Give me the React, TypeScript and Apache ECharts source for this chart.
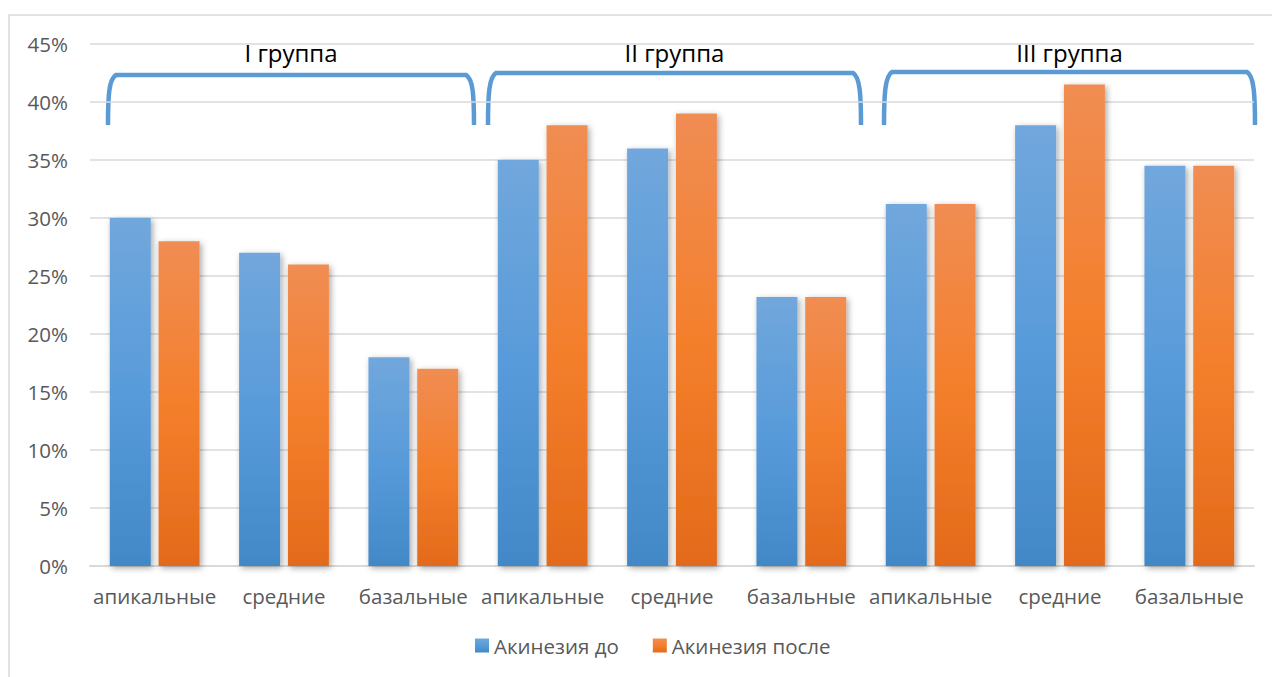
import React, { useEffect, useRef } from "react";
import * as echarts from "echarts";

// Segment categories, repeated for each of the three patient groups
const categories = [
  "апикальные", "средние", "базальные",
  "апикальные", "средние", "базальные",
  "апикальные", "средние", "базальные",
];
const groupNames = ["I группа", "II группа", "III группа"];
const seriesNames = ["Акинезия до", "Акинезия после"];
const akinesiaBefore = [30, 27, 18, 35, 36, 23.2, 31.2, 38, 34.5];
const akinesiaAfter = [28, 26, 17, 38, 39, 23.2, 31.2, 41.5, 34.5];
const yTicks = { min: 0, max: 45, interval: 5 };

const TEXT = "#595959";
const GRID = "#d9d9d9";
const BRACE = "#5b9bd5";
const FONT = "'Open Sans', 'Noto Sans', sans-serif";

const blueFill = new echarts.graphic.LinearGradient(0, 0, 0, 1, [
  { offset: 0, color: "#71a7dc" },
  { offset: 0.5, color: "#589bda" },
  { offset: 1, color: "#4288c7" },
]);
const orangeFill = new echarts.graphic.LinearGradient(0, 0, 0, 1, [
  { offset: 0, color: "#f08d53" },
  { offset: 0.5, color: "#f47f2c" },
  { offset: 1, color: "#e36a1a" },
]);

// Bracket path spanning a group: flared verticals joined by a flat top
function bracePath(l: number, r: number, top: number, bottom: number) {
  return (
    `M${l} ${bottom} C${l} ${bottom - 30} ${l + 1} ${top + 4} ${l + 8} ${top} ` +
    `L${r - 8} ${top} C${r - 1} ${top + 4} ${r} ${bottom - 30} ${r} ${bottom}`
  );
}

const braces = [
  { name: "brace1", l: 108, r: 474, top: 75 },
  { name: "brace2", l: 488, r: 861, top: 73 },
  { name: "brace3", l: 884, r: 1255, top: 72 },
];
const braceBottom = 125;
braces.forEach((b) => {
  echarts.graphic.registerShape(
    b.name,
    echarts.graphic.extendPath(bracePath(b.l, b.r, b.top, braceBottom), {})
  );
});

export default function App() {
  const ref = useRef<HTMLDivElement>(null);

  useEffect(() => {
    if (!ref.current) return;
    const chart = echarts.init(ref.current, null, { renderer: "svg" });

    const barStyle = (fill: any) => ({
      color: fill,
      shadowBlur: 6,
      shadowColor: "rgba(0,0,0,0.35)",
      shadowOffsetX: 2,
      shadowOffsetY: 2,
    });

    chart.setOption({
      animation: false,
      backgroundColor: "#ffffff",
      textStyle: { fontFamily: FONT },
      grid: { left: 90, right: 18, top: 44, bottom: 111 },
      legend: {
        bottom: 16,
        left: 470,
        itemWidth: 14,
        itemHeight: 14,
        itemGap: 34,
        icon: "rect",
        textStyle: { color: TEXT, fontSize: 20.5, fontFamily: FONT },
        data: seriesNames,
      },
      xAxis: {
        type: "category",
        data: categories,
        axisLine: { show: true, lineStyle: { color: GRID, width: 2 } },
        axisTick: { show: false },
        axisLabel: {
          color: TEXT,
          fontSize: 20.5,
          margin: 19,
          interval: 0,
          fontFamily: FONT,
        },
      },
      yAxis: {
        type: "value",
        min: yTicks.min,
        max: yTicks.max,
        interval: yTicks.interval,
        axisLine: { show: false },
        axisTick: { show: false },
        splitLine: { lineStyle: { color: GRID, width: 1.5 } },
        axisLabel: {
          color: TEXT,
          fontSize: 20.5,
          margin: 22,
          formatter: "{value}%",
          fontFamily: FONT,
        },
      },
      series: [
        {
          name: seriesNames[0],
          type: "bar",
          data: akinesiaBefore,
          barWidth: 41,
          barGap: "19%",
          itemStyle: barStyle(blueFill),
        },
        {
          name: seriesNames[1],
          type: "bar",
          data: akinesiaAfter,
          barWidth: 41,
          barGap: "19%",
          itemStyle: barStyle(orangeFill),
        },
      ],
      graphic: [
        {
          type: "rect",
          silent: true,
          shape: { x: 9, y: 15, width: 1400, height: 800 },
          style: { fill: "none", stroke: GRID, lineWidth: 1.5 },
          z: -10,
        },
        ...braces.map((b) => ({
          type: b.name,
          silent: true,
          style: { fill: "none", stroke: BRACE, lineWidth: 4.5 },
        })),
        ...braces.map((b, i) => ({
          type: "text",
          silent: true,
          x: (b.l + b.r) / 2,
          y: 52,
          style: {
            text: groupNames[i],
            fill: "#000000",
            fontSize: 24,
            fontFamily: FONT,
            align: "center",
            verticalAlign: "middle",
          },
        })),
      ],
    });

    return () => chart.dispose();
  }, []);

  return (
    <div
      ref={ref}
      style={{ position: "fixed", left: 0, top: 0, width: 1272, height: 677 }}
    />
  );
}
